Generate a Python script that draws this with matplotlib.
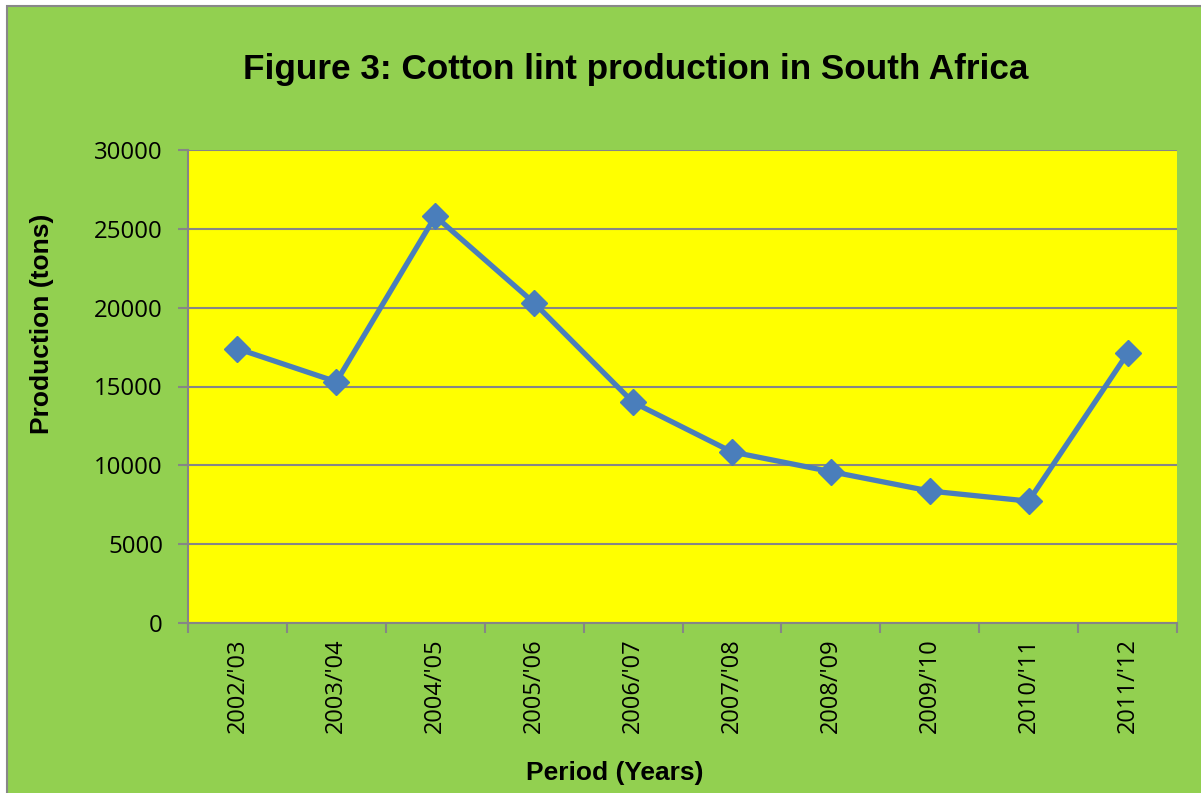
import numpy as np
import matplotlib.pyplot as plt
from matplotlib.patches import Rectangle

# Cotton lint production per season (tons)
periods = ["2002/'03", "2003/'04", "2004/'05", "2005/'06", "2006/'07",
           "2007/'08", "2008/'09", "2009/'10", "2010/'11", "2011/'12"]
production = [17400, 15300, 25800, 20300, 14000, 10850, 9600, 8370, 7730, 17100]

GREEN = "#92D050"
YELLOW = "#FFFF00"
GRID = "#868686"
LINE = "#4A7EBB"

W, H = 1201, 793
fig = plt.figure(figsize=(W / 100, H / 100), dpi=100)
fig.patch.set_facecolor("white")

# chart area with grey border (cropped on the right / bottom)
fig.patches.append(Rectangle((7 / W, -0.05), 1.1, (H - 6) / H + 0.05,
                             transform=fig.transFigure, facecolor=GREEN,
                             edgecolor="#888888", linewidth=1.5, zorder=-10))

left, right, top, bottom = 188, 1177, 150, 623
ax = fig.add_axes([left / W, 1 - bottom / H, (right - left) / W, (bottom - top) / H])
ax.set_facecolor(YELLOW)

x = np.arange(len(periods))
ax.plot(x, production, color=LINE, linewidth=3.8, marker="D", markersize=13,
        markerfacecolor=LINE, markeredgecolor=LINE, zorder=3)

ax.set_xlim(-0.5, len(periods) - 0.5)
ax.set_ylim(0, 30000)
ax.set_yticks(np.arange(0, 30001, 5000))
ax.yaxis.grid(True, color=GRID, linewidth=1.5)
ax.set_axisbelow(True)

# category ticks on boundaries, labels on centres
ax.set_xticks(np.arange(-0.5, len(periods), 1))
ax.set_xticklabels([])
ax.set_xticks(x, minor=True)
ax.set_xticklabels(periods, minor=True, rotation=90, fontsize=17, family="Open Sans")
ax.tick_params(axis="x", which="minor", length=0, pad=11)
ax.tick_params(axis="x", which="major", length=7, width=1.5, color=GRID)
ax.tick_params(axis="y", length=7, width=1.5, color=GRID, labelsize=17.3, pad=11)
for lbl in ax.get_yticklabels():
    lbl.set_family("Open Sans")

for side in ["top", "right"]:
    ax.spines[side].set_visible(False)
for side in ["left", "bottom"]:
    ax.spines[side].set_color(GRID)
    ax.spines[side].set_linewidth(1.5)

fig.text(636 / W, 1 - 70 / H, "Figure 3: Cotton lint production in South Africa",
         ha="center", va="center", fontsize=25.3, fontweight="bold",
         family="Liberation Sans")
fig.text(42 / W, 1 - 324 / H, "Production (tons)", rotation=90, ha="center",
         va="center", fontsize=19, fontweight="bold", family="Liberation Sans")
fig.text(615 / W, 1 - 773 / H, "Period (Years)", ha="center", va="center",
         fontsize=19, fontweight="bold", family="Liberation Sans")

fig.savefig("out.png", dpi=100)
